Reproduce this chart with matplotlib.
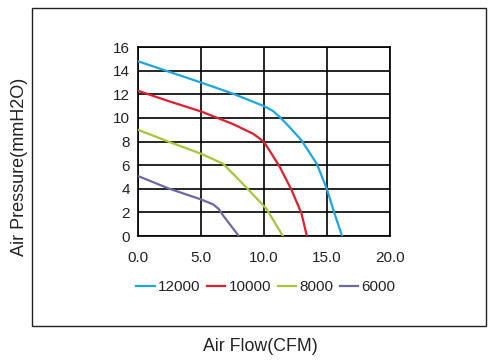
import matplotlib
matplotlib.use("Agg")
import matplotlib.pyplot as plt
from matplotlib.patches import Rectangle

plt.rcParams['font.family'] = ['Liberation Sans', 'DejaVu Sans']

x_12000 = [0.0, 2.5, 5.0, 7.55, 10.0, 10.7, 11.26, 12.05, 12.98, 14.2, 15.0, 15.6, 16.2]
y_12000 = [14.8, 13.9, 13.0, 12.05, 11.0, 10.6, 10.07, 9.2, 8.1, 6.1, 3.95, 1.9, 0.0]
x_10000 = [0.0, 2.5, 5.0, 7.5, 9.14, 9.6, 10.0, 10.6, 11.26, 12.2, 12.98, 13.4]
y_10000 = [12.3, 11.4, 10.55, 9.5, 8.66, 8.3, 7.96, 6.97, 5.84, 3.87, 1.9, 0.0]
x_8000 = [0.0, 2.5, 5.0, 6.75, 7.7, 8.74, 10.2, 11.5]
y_8000 = [9.0, 7.96, 6.97, 6.12, 5.1, 3.95, 2.3, 0.0]
x_6000 = [0.0, 2.5, 5.0, 5.96, 6.4, 6.75, 8.0]
y_6000 = [5.08, 4.0, 3.1, 2.68, 2.3, 1.75, 0.0]

series = [("12000", x_12000, y_12000, "#1ea6de"),
          ("10000", x_10000, y_10000, "#e01f2d"),
          ("8000", x_8000, y_8000, "#a6c63a"),
          ("6000", x_6000, y_6000, "#6d68a6")]

xticks = [0, 5, 10, 15, 20]
xticklabels = ["0.0", "5.0", "10.0", "15.0", "20.0"]
yticks = [0, 2, 4, 6, 8, 10, 12, 14, 16]

fig = plt.figure(figsize=(4.95, 3.64), dpi=100)
fig.patches.append(Rectangle((0.0646, 0.1044), 0.9174, 0.8736, transform=fig.transFigure,
                             fill=False, edgecolor="#222222", linewidth=1.0))
ax = fig.add_axes([0.2788, 0.3516, 0.509, 0.519])
for name, xs, ys, c in series:
    ax.plot(xs, ys, color=c, linewidth=1.6, label=name, zorder=3,
            solid_joinstyle="round")

ax.set_xlim(0, 20)
ax.set_ylim(0, 16)
ax.set_xticks(xticks)
ax.set_xticklabels(xticklabels)
ax.set_yticks(yticks)
ax.grid(True, color="black", linewidth=1.2)
ax.set_axisbelow(True)
for s in ax.spines.values():
    s.set_linewidth(1.2)
ax.tick_params(length=0, labelsize=11, colors="#222222", pad=6)
ax.tick_params(axis='x', pad=11)

fig.text(0.04, 0.541, "Air Pressure(mmH2O)", rotation=90, ha="center", va="center",
         fontsize=13, color="#222222")
fig.text(0.527, 0.047, "Air Flow(CFM)", ha="center", va="center", fontsize=12.8, color="#222222")

fig.legend(loc="center", bbox_to_anchor=(0.537, 0.211), ncol=4, frameon=False,
           fontsize=11, handlelength=1.2, handletextpad=0.2, columnspacing=0.45,
           labelcolor="#222222")

fig.savefig("out.png", dpi=100)
